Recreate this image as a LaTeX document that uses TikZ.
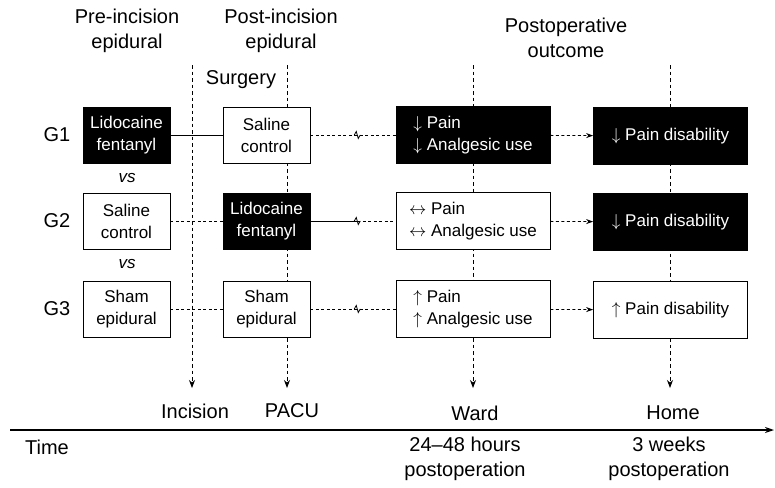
\documentclass[tikz,border=0pt]{standalone}
\usepackage{fontspec}
\setmainfont{Liberation Sans}
\usetikzlibrary{positioning,arrows.meta}

\begin{document}
\begin{tikzpicture}[x=1pt, y=-1pt, font=\fontsize{17}{22}\selectfont]
    \tikzset{
        arm/.style      =   { rectangle
                            , draw=black
                            , line width=0.8pt
                            , minimum width=87pt
                            , minimum height=56pt
                            , inner sep=1pt
                            , align=center
                            , fill=white
        }
        , active/.style =   { arm
                            , fill=black
                            , text=white
        }
        , res/.style    =   { arm
                            , minimum width=154pt
                            , minimum height=57pt
                            , align=left
        }
        , resdark/.style =  { res
                            , fill=black
                            , text=white
        }
        , head/.style   =   { align=center
                            , font=\fontsize{20}{25}\selectfont
        }
        , lbl/.style    =   { font=\fontsize{20}{24}\selectfont }
        , timeline/.style = { line width=0.8pt
                            , dash pattern=on 3.5pt off 3pt
                            , -{Stealth[length=8pt,width=6pt]}
        }
        , link/.style   =   { line width=0.8pt }
        , dlink/.style  =   { link
                            , dash pattern=on 3pt off 2.5pt
        }
    }
    \useasboundingbox (0,0) rectangle (775,487);

    % time points
    \coordinate (inc top)  at (192,65);   \coordinate (inc bot)  at (192,388);
    \coordinate (pacu top) at (287,65);   \coordinate (pacu bot) at (287,388);
    \coordinate (ward top) at (473,65);   \coordinate (ward bot) at (473,388);
    \coordinate (home top) at (670,65);   \coordinate (home bot) at (670,388);
    \draw[timeline] (inc top)  -- (inc bot);
    \draw[timeline] (pacu top) -- (pacu bot);
    \draw[timeline] (ward top) -- (ward bot);
    \draw[timeline] (home top) -- (home bot);

    % headings
    \node(pre)[head]  at (127,31)   {Pre-incision\\epidural};
    \node(post)[head] at (281,31)   {Post-incision\\epidural};
    \node(outc)[head] at (566,38)   {Postoperative\\outcome};
    \node(surg)[lbl]  at (241,80)   {Surgery};

    % groups
    \node(G1)[lbl] at (57,135) {G1};
    \node(G2)[lbl] at (57,221) {G2};
    \node(G3)[lbl] at (57,309) {G3};
    \node(vs1) at (127,178) {\itshape vs};
    \node(vs2) at (127,264) {\itshape vs};

    \node(g1a)[active]  at (126.5,135) {Lidocaine\\fentanyl};
    \node(g1b)[arm]     at (266.5,135) {Saline\\control};
    \node(g1c)[resdark] at (473,135)   {$\downarrow$ Pain\\$\downarrow$ Analgesic use};
    \node(g1d)[resdark] at (670.5,136) {$\downarrow$ Pain disability};

    \node(g2a)[arm]     at (126.5,221) {Saline\\control};
    \node(g2b)[active]  at (266.5,221) {Lidocaine\\fentanyl};
    \node(g2c)[res]     at (473,221)   {$\leftrightarrow$ Pain\\$\leftrightarrow$ Analgesic use};
    \node(g2d)[resdark] at (670.5,222) {$\downarrow$ Pain disability};

    \node(g3a)[arm]     at (126.5,309) {Sham\\epidural};
    \node(g3b)[arm]     at (266.5,309) {Sham\\epidural};
    \node(g3c)[res]     at (473,309)   {$\uparrow$ Pain\\$\uparrow$ Analgesic use};
    \node(g3d)[res]     at (670.5,310) {$\uparrow$ Pain disability};

    % connectors
    \draw[link]  (g1a) -- (g1b);
    \draw[dlink] (g2a) -- (g2b);
    \draw[dlink] (g3a) -- (g3b);

    \path (g1b.east) -- coordinate[pos=0.55] (k1) (g1c.west);
    \path (g2b.east) -- coordinate[pos=0.55] (k2) (g2c.west);
    \path (g3b.east) -- coordinate[pos=0.55] (k3) (g3c.west);
    \draw[dlink] (g1b.east) -- (g1c.west);
    \draw[link]  (g2b.east) -- (k2);
    \draw[dlink] (k2) -- (g2c.west);
    \draw[dlink] (g3b.east) -- (g3c.west);
    \foreach \k in {k1,k2,k3}
        \draw[link] ([xshift=-3pt]\k) -- ([xshift=-1pt,yshift=3.5pt]\k)
                 -- ([xshift=1pt,yshift=-3.5pt]\k) -- ([xshift=3pt]\k);

    \draw[dlink,-{Stealth[length=7pt,width=5pt]}] (g1c) -- (g1d);
    \draw[dlink,-{Stealth[length=7pt,width=5pt]}] (g2c) -- (g2d);
    \draw[dlink,-{Stealth[length=7pt,width=5pt]}] (g3c) -- (g3d);

    % time axis
    \node(inc)[lbl]  at (195,411) {Incision};
    \node(pacu)[lbl] at (292,411) {PACU};
    \node(ward)[lbl] at (475,413) {Ward};
    \node(home)[lbl] at (673,413) {Home};
    \coordinate (t0) at (10,430);
    \coordinate (t1) at (774,430);
    \draw[line width=1.3pt, -{Stealth[length=9pt,width=6pt]}] (t0) -- (t1);
    \node(time)[lbl] at (47,447) {Time};
    \node(h24)[head] at (465,459) {24--48 hours\\postoperation};
    \node(w3)[head]  at (669,459) {3 weeks\\postoperation};
\end{tikzpicture}
\end{document}
